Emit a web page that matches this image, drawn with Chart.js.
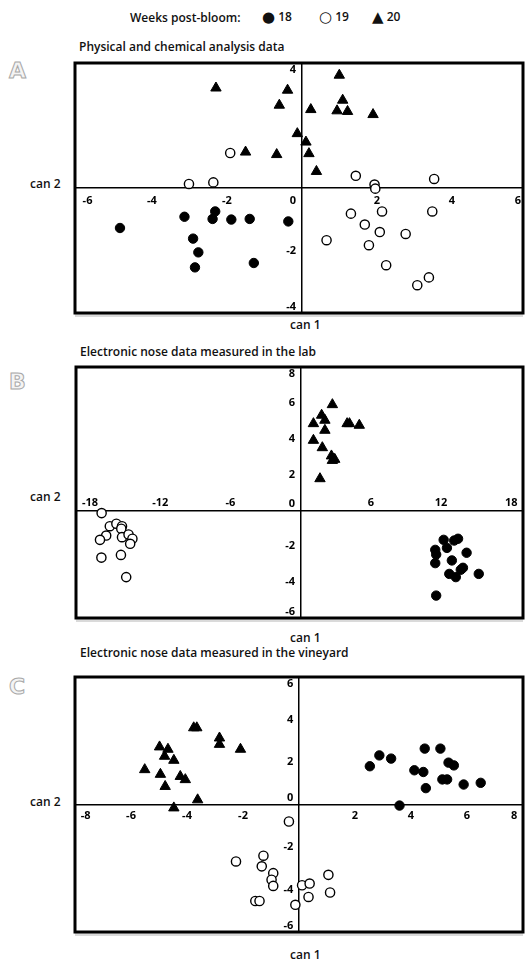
<!DOCTYPE html>
<html>
<head>
<meta charset="utf-8">
<script src="https://cdn.jsdelivr.net/npm/chart.js@4.4.0/dist/chart.umd.min.js"></script>
<style>
  body { margin: 0; width: 530px; height: 964px; background: #fff; position: relative; overflow: hidden;
         font-family: "Open Sans", sans-serif; font-weight: 600; color: #111; }
  .t { position: absolute; font-size: 12px; white-space: nowrap; line-height: 1; }
  .sym { font-family: "DejaVu Sans"; font-size: 15px; vertical-align: -1px; }
  .letter { position: absolute; left: 9px; font-size: 22px; line-height: 1; color: #f4f4f4;
            -webkit-text-stroke: 1px #a8a8a8; font-family: "DejaVu Sans"; font-weight: bold; }
  canvas { position: absolute; left: 0; }
</style>
</head>
<body>
<div class="t" style="left:130px;top:12px;">Weeks post-bloom:</div>
<div class="t" style="left:262px;top:10px;"><span class="sym">●</span> 18</div>
<div class="t" style="left:319px;top:10px;"><span class="sym">○</span> 19</div>
<div class="t" style="left:372px;top:10px;"><span class="sym">▲</span> 20</div>

<div class="t" style="left:79px;top:41px;">Physical and chemical analysis data</div>
<div class="letter" style="top:60px;">A</div>
<div class="t" style="left:30px;top:178px;">can 2</div>
<div class="t" style="left:290px;top:319px;">can 1</div>
<canvas id="chartA" width="530" height="294" style="top:41px"></canvas>

<div class="t" style="left:80px;top:346px;">Electronic nose data measured in the lab</div>
<div class="letter" style="top:371px;">B</div>
<div class="t" style="left:30px;top:491px;">can 2</div>
<div class="t" style="left:290px;top:632px;">can 1</div>
<canvas id="chartB" width="530" height="295" style="top:345px"></canvas>

<div class="t" style="left:80px;top:647px;">Electronic nose data measured in the vineyard</div>
<div class="letter" style="top:676px;">C</div>
<div class="t" style="left:30px;top:796px;">can 2</div>
<div class="t" style="left:290px;top:949px;">can 1</div>
<canvas id="chartC" width="530" height="299" style="top:655px"></canvas>

<script>
// weeks post-bloom groups
const weekLabels = ['18', '19', '20'];

// A: physical and chemical analysis data, [can1, can2]
const physWeek18 = [[-4.85,-1.28],[-3.13,-0.92],[-2.31,-0.75],[-2.38,-0.99],[-1.88,-1.01],[-1.39,-0.99],
                    [-0.36,-1.07],[-2.90,-1.62],[-2.76,-2.06],[-2.85,-2.54],[-1.28,-2.40]];
const physWeek19 = [[-1.91,1.12],[-3.01,0.13],[-2.36,0.18],[1.44,0.39],[1.94,0.11],[1.96,-0.02],[3.53,0.29],
                    [1.31,-0.82],[2.14,-0.75],[3.48,-0.75],[1.68,-1.17],[2.08,-1.41],[2.77,-1.47],[0.66,-1.67],
                    [1.79,-1.83],[2.25,-2.47],[3.39,-2.86],[3.08,-3.11]];
const physWeek20 = [[-2.29,3.20],[-0.38,3.13],[1.00,3.61],[-0.60,2.65],[0.24,2.51],[1.09,2.81],[0.94,2.47],
                    [1.22,2.45],[1.90,2.35],[-0.12,1.74],[0.11,1.47],[-1.50,1.15],[-0.67,1.07],[0.19,1.10],[0.39,0.53]];
const physXTicks = [-6, -4, -2, 0, 2, 4, 6];
const physYTicks = [-4, -2, 0, 2, 4];

// B: electronic nose, lab
const labWeek18 = [[12.22,-1.64],[13.12,-1.68],[13.45,-1.58],[12.50,-2.09],[11.50,-2.20],[11.58,-2.46],[14.18,-2.36],
                   [12.92,-2.79],[11.50,-2.94],[13.87,-3.20],[13.68,-3.31],[12.70,-3.54],[13.26,-3.72],[15.22,-3.54],[11.58,-4.75]];
const labWeek19 = [[-17.01,-0.15],[-16.31,-0.88],[-15.75,-0.74],[-15.27,-0.88],[-15.33,-1.02],[-16.62,-1.40],[-17.15,-1.64],
                   [-15.27,-1.49],[-14.71,-1.34],[-14.38,-1.58],[-14.57,-1.86],[-15.36,-2.48],[-17.03,-2.63],[-14.91,-3.72]];
const labWeek20 = [[2.71,5.90],[1.79,5.31],[1.09,4.84],[2.07,5.03],[3.97,4.84],[4.17,4.84],[5.01,4.75],[2.07,4.47],
                   [1.09,3.91],[1.85,3.50],[2.63,3.04],[2.91,2.85],[2.71,2.79],[1.65,1.77]];
const labXTicks = [-18, -12, -6, 0, 6, 12, 18];
const labYTicks = [-6, -4, -2, 0, 2, 4, 6, 8];

// C: electronic nose, vineyard
const vineWeek18 = [[2.53,1.80],[2.87,2.31],[3.29,2.16],[4.49,2.63],[5.05,2.63],[5.34,1.97],[5.53,1.84],[4.12,1.61],
                    [4.44,1.53],[5.12,1.18],[5.29,1.18],[4.53,0.77],[5.88,0.94],[6.49,1.02],[3.59,-0.05]];
const vineWeek19 = [[-0.36,-0.80],[-2.25,-2.68],[-1.27,-2.41],[-1.33,-2.91],[-0.92,-3.23],[-0.98,-3.54],[-0.92,-3.83],
                    [0.11,-3.80],[0.38,-3.72],[1.05,-3.31],[1.11,-4.14],[0.34,-4.35],[-1.56,-4.54],[-1.41,-4.54],[-0.13,-4.72]];
const vineWeek20 = [[-3.76,3.61],[-3.65,3.61],[-2.84,3.13],[-2.84,2.83],[-2.09,2.60],[-4.98,2.71],[-4.68,2.60],[-4.80,2.27],
                    [-4.47,2.08],[-5.51,1.64],[-4.95,1.42],[-4.24,1.32],[-4.06,1.17],[-4.78,0.85],[-3.62,0.22],[-4.47,-0.16]];
const vineXTicks = [-8, -6, -4, -2, 0, 2, 4, 6, 8];
const vineYTicks = [-6, -4, -2, 0, 2, 4, 6];

const tickFont = { family: 'Open Sans', size: 11, weight: 'bold' };

const frame = {
    id: 'frame',
    afterDraw(chart) {
        const { ctx, chartArea: a } = chart;
        ctx.save();
        // scanner smudge under the bottom edge
        ctx.fillStyle = 'rgba(150,150,150,0.35)';
        ctx.fillRect(a.left, a.bottom + 1, a.right - a.left, 3);
        ctx.strokeStyle = '#000';
        ctx.lineWidth = 3;
        ctx.strokeRect(a.left, a.top, a.right - a.left, a.bottom - a.top);
        ctx.restore();
    }
};

const toXY = pts => pts.map(p => ({ x: p[0], y: p[1] }));
const gap = '  ';

// y labels sit left of the axis; top/bottom ones pushed inside the frame with blank lines
function yLabel(v, top, bottom, hide, zeroLabel) {
    if (hide.includes(v)) return '';
    if (v === 0 && zeroLabel) return zeroLabel.map(s => (s ? s + gap : s));
    if (v === top) return ['', v + gap];
    if (v === bottom) return [v + gap, ''];
    return v + gap;
}

// x labels: end labels kept clear of the frame when aligned inside
function xLabel(v, ticks, hide, inner) {
    if (hide.includes(v)) return '';
    if (inner && v === ticks[0]) return gap + v;
    if (inner && v === ticks[ticks.length - 1]) return v + gap;
    return String(v);
}

function drawPanel(id, sets, p) {
    new Chart(document.getElementById(id), {
        type: 'scatter',
        data: {
            datasets: [
                { label: weekLabels[0], data: toXY(sets[0]), pointStyle: 'circle', pointRadius: 4.7,
                  backgroundColor: '#000', borderColor: '#000', borderWidth: 1 },
                { label: weekLabels[1], data: toXY(sets[1]), pointStyle: 'circle', pointRadius: 4.6,
                  backgroundColor: '#fff', borderColor: '#000', borderWidth: 1.4 },
                { label: weekLabels[2], data: toXY(sets[2]), pointStyle: 'triangle', pointRadius: 6,
                  backgroundColor: '#000', borderColor: '#000', borderWidth: 1 }
            ]
        },
        options: {
            responsive: false,
            animation: false,
            events: [],
            layout: { padding: { left: p.left, right: 2, top: 22, bottom: 22 } },
            plugins: { legend: { display: false }, tooltip: { enabled: false } },
            scales: {
                x: {
                    type: 'linear', min: p.xMin, max: p.xMax, position: { y: 0 },
                    afterBuildTicks: axis => { axis.ticks = p.xTicks.map(v => ({ value: v })); },
                    grid: { display: false },
                    border: { display: true, color: '#000', width: 1.5 },
                    ticks: {
                        align: p.xAlign, padding: p.xPad, font: tickFont, color: '#000',
                        autoSkip: false, maxRotation: 0,
                        callback: v => xLabel(v, p.xTicks, p.hideX, p.xAlign === 'inner')
                    }
                },
                y: {
                    type: 'linear', min: p.yMin, max: p.yMax, position: { x: 0 },
                    afterBuildTicks: axis => { axis.ticks = p.yTicks.map(v => ({ value: v })); },
                    grid: { display: false },
                    border: { display: true, color: '#000', width: 1.5 },
                    ticks: {
                        font: tickFont, color: '#000', autoSkip: false,
                        callback: v => yLabel(v, p.yTicks[p.yTicks.length - 1], p.yTicks[0], p.hideY, p.zeroY)
                    }
                }
            }
        },
        plugins: [frame]
    });
}

drawPanel('chartA', [physWeek18, physWeek19, physWeek20], {
    left: 75, xMin: -6.05, xMax: 5.9, yMin: -4, yMax: 4,
    xTicks: physXTicks, yTicks: physYTicks, xAlign: 'inner', xPad: -2,
    hideX: [0], hideY: [2], zeroY: ['', '', '0']
});

drawPanel('chartB', [labWeek18, labWeek19, labWeek20], {
    left: 76, xMin: -19.2, xMax: 19.0, yMin: -6, yMax: 8,
    xTicks: labXTicks, yTicks: labYTicks, xAlign: 'center', xPad: -22,
    hideX: [0], hideY: [], zeroY: ['0', '']
});

drawPanel('chartC', [vineWeek18, vineWeek19, vineWeek20], {
    left: 75, xMin: -8, xMax: 8, yMin: -6, yMax: 6,
    xTicks: vineXTicks, yTicks: vineYTicks, xAlign: 'inner', xPad: -3,
    hideX: [0], hideY: [], zeroY: ['0', '']
});
</script>
</body>
</html>
